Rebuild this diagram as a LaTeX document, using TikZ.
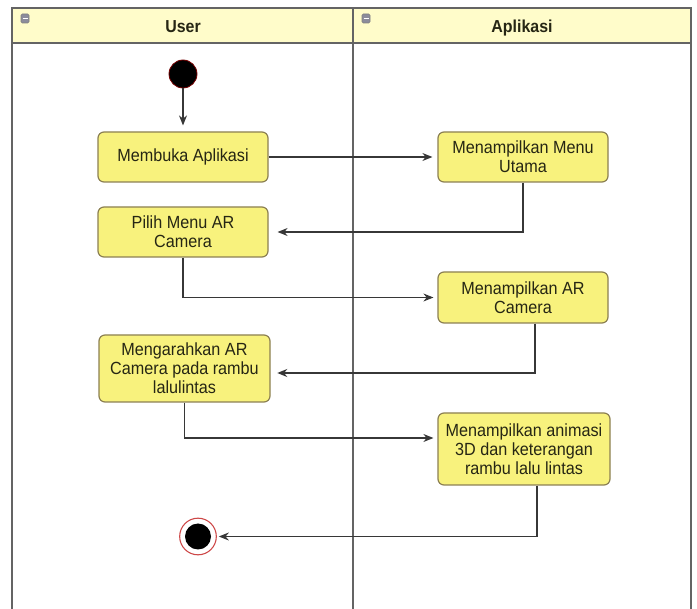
\documentclass[tikz,border=0pt]{standalone}
\usepackage{fontspec}
\setmainfont{Liberation Sans}
\newfontfamily\boxfont[FakeStretch=0.92]{Liberation Sans}
\usetikzlibrary{arrows.meta,calc}
\definecolor{headfill}{RGB}{255,252,202}
\definecolor{boxfill}{RGB}{248,242,125}
\definecolor{boxborder}{RGB}{140,128,82}
\definecolor{linec}{RGB}{55,55,55}
\definecolor{framec}{RGB}{100,100,100}
\definecolor{textc}{RGB}{38,38,20}
\definecolor{startborder}{RGB}{120,0,0}
\definecolor{endring}{RGB}{205,70,70}
\definecolor{iconc}{RGB}{140,140,155}
\begin{document}
\begin{tikzpicture}[x=0.75pt,y=-0.75pt,
  actbox/.style={draw=boxborder,fill=boxfill,rounded corners=4.5pt,line width=0.9pt,
    minimum width=127.5pt,minimum height=37.5pt,inner sep=0pt,align=center,text=textc,
    font=\boxfont\fontsize{13.2}{14.4}\selectfont},
  flow/.style={draw=linec,line width=1.05pt,-{Stealth[length=7.5pt,width=6pt]}},
  lane/.style={draw=framec,line width=1.1pt},
  lanehead/.style={font=\boxfont\bfseries\fontsize{13}{15}\selectfont,text=textc},
  laneicon/.style={draw=gray,fill=iconc,rounded corners=1pt,line width=0.4pt}]
\useasboundingbox (0,0) rectangle (697,609);
\fill[white] (0,0) rectangle (697,609);
% swimlane frame
\fill[headfill] (12,8) rectangle (691,43);
\draw[lane] (12,609) -- (12,8) -- (691,8) -- (691,609);
\draw[lane] (12,43) -- (691,43);
\draw[lane] (353,8) -- (353,609);
% lane icons
\draw[laneicon] (21,14) rectangle (29,23);
\draw[white,line width=0.6pt] (22.5,18.5) -- (27.5,18.5);
\draw[laneicon] (362,14) rectangle (370,23);
\draw[white,line width=0.6pt] (363.5,18.5) -- (368.5,18.5);
% lane titles
\node[lanehead] (huser) at (183,27) {User};
\node[lanehead] (happ) at (522,28) {Aplikasi};
% nodes
\node[circle,fill=black,draw=startborder,line width=0.6pt,minimum size=21pt,inner sep=0pt] (start) at (183,74) {};
\node[actbox] (membuka) at (183,157) {Membuka Aplikasi};
\node[actbox] (utama) at (523,157) {Menampilkan Menu\\Utama};
\node[actbox] (pilih) at (183,232) {Pilih Menu AR\\Camera};
\node[actbox,minimum height=38.25pt] (arcam) at (523,297.5) {Menampilkan AR\\Camera};
\node[actbox,minimum width=128.25pt,minimum height=50.25pt] (mengarah) at (184.5,368.5) {Mengarahkan AR\\Camera pada rambu\\lalulintas};
\node[actbox,minimum width=129pt,minimum height=54pt] (animasi) at (524,449) {Menampilkan animasi\\3D dan keterangan\\rambu lalu lintas};
\node[circle,draw=endring,fill=white,line width=0.8pt,minimum size=27.5pt,inner sep=0pt] (end) at (198,536.5) {};
\node[circle,fill=black,minimum size=19.5pt,inner sep=0pt] (endcore) at (end) {};
% connectors
\draw[flow,shorten >=4.5pt] (start) -- (membuka);
\draw[flow,shorten >=3.75pt] (membuka) -- (utama);
\draw[flow,shorten >=6.75pt] (utama.south) |- (pilih.east);
\draw[flow,shorten >=3pt] (pilih.south) |- (arcam.west);
\draw[flow,shorten >=5pt] ($(arcam.south)+(12,0)$) |- ($(mengarah.east)+(0,4.5)$);
\draw[flow,shorten >=3pt] (mengarah.south) |- ($(animasi.west)+(0,-11)$);
\draw[flow,shorten >=1.5pt] ($(animasi.south)+(13,0)$) |- (end.east);
\end{tikzpicture}
\end{document}
